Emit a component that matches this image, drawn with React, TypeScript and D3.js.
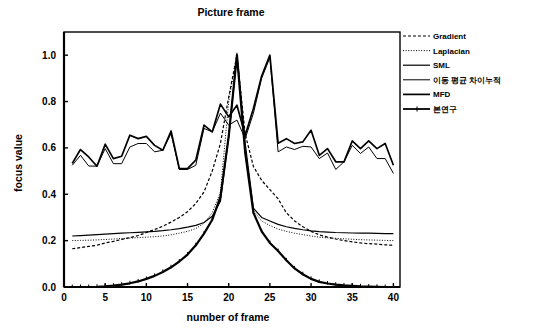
import React from "react";
import * as d3 from "d3";

const frames = d3.range(1, 41);
const xTicks = [0, 5, 10, 15, 20, 25, 30, 35, 40];
const yTicks = [0, 0.2, 0.4, 0.6, 0.8, 1.0];

const gradient = [0.165, 0.17, 0.175, 0.18, 0.19, 0.197, 0.205, 0.213, 0.222, 0.235, 0.248, 0.262, 0.28, 0.3, 0.325, 0.36, 0.41, 0.5, 0.62, 0.82, 1.0, 0.66, 0.52, 0.46, 0.42, 0.38, 0.32, 0.285, 0.26, 0.24, 0.225, 0.215, 0.207, 0.2, 0.195, 0.19, 0.187, 0.185, 0.182, 0.18];
const laplacian = [0.2, 0.201, 0.202, 0.203, 0.205, 0.207, 0.209, 0.211, 0.213, 0.215, 0.217, 0.22, 0.225, 0.232, 0.24, 0.252, 0.275, 0.32, 0.41, 0.8, 1.0, 0.6, 0.33, 0.285, 0.265, 0.25, 0.24, 0.232, 0.226, 0.22, 0.215, 0.212, 0.21, 0.208, 0.206, 0.204, 0.203, 0.202, 0.201, 0.2];
const sml = [0.22, 0.222, 0.224, 0.226, 0.228, 0.23, 0.232, 0.234, 0.236, 0.238, 0.24, 0.243, 0.247, 0.252, 0.258, 0.266, 0.278, 0.305, 0.37, 0.65, 1.0, 0.62, 0.34, 0.3, 0.285, 0.27, 0.26, 0.253, 0.247, 0.242, 0.239, 0.237, 0.235, 0.234, 0.233, 0.232, 0.232, 0.231, 0.23, 0.23];
const movingAvg = [0.525, 0.568, 0.522, 0.521, 0.597, 0.532, 0.532, 0.604, 0.619, 0.619, 0.583, 0.59, 0.662, 0.507, 0.507, 0.525, 0.684, 0.669, 0.75, 0.698, 0.72, 0.64, 0.75, 0.9, 0.99, 0.583, 0.604, 0.593, 0.607, 0.604, 0.554, 0.578, 0.507, 0.54, 0.611, 0.576, 0.604, 0.554, 0.554, 0.49];
const mfd = [0.533, 0.593, 0.561, 0.521, 0.616, 0.554, 0.564, 0.655, 0.64, 0.65, 0.611, 0.59, 0.673, 0.511, 0.511, 0.547, 0.698, 0.669, 0.789, 0.734, 0.784, 0.655, 0.77, 0.91, 1.0, 0.62, 0.64, 0.619, 0.626, 0.676, 0.568, 0.597, 0.54, 0.54, 0.63, 0.597, 0.63, 0.597, 0.619, 0.525];
const proposed = [0, 0, 0, 0.001, 0.003, 0.006, 0.01, 0.016, 0.024, 0.035, 0.048, 0.065, 0.085, 0.11, 0.14, 0.18, 0.23, 0.29, 0.39, 0.65, 1.0, 0.58, 0.32, 0.24, 0.19, 0.155, 0.115, 0.08, 0.055, 0.035, 0.022, 0.015, 0.01, 0.007, 0.005, 0.003, 0.002, 0.001, 0, 0];

const seriesNames = ["Gradient", "Laplacian", "SML", "이동 평균 차이누적", "MFD", "본연구"];

const styles = [
  { w: 1.2, dash: "3,2" },
  { w: 1, dash: "1,1.6" },
  { w: 1.2, dash: "" },
  { w: 1, dash: "" },
  { w: 1.7, dash: "" },
  { w: 2.2, dash: "" },
];

export default function App() {
  const left = 64, right = 400, top = 32, bottom = 287;
  const x = d3.scaleLinear().domain([0, 40.8]).range([left, right]);
  const y = d3.scaleLinear().domain([0, 1.1]).range([bottom, top]);
  const data = [gradient, laplacian, sml, movingAvg, mfd, proposed];
  const line = d3
    .line<number>()
    .x((_, i) => x(frames[i]))
    .y((d) => y(d));
  const font = "'Liberation Sans', Arial, sans-serif";

  return (
    <svg width={534} height={329} style={{ position: "absolute", left: 0, top: 0, background: "#fff" }} fontFamily={font}>
      <rect x={0} y={0} width={534} height={329} fill="#fff" />
      <text x={231} y={16} textAnchor="middle" fontSize={10.5} fontWeight="bold">Picture frame</text>
      {data.map((s, k) => (
        <path key={k} d={line(s) || ""} fill="none" stroke="#000" strokeWidth={styles[k].w} strokeDasharray={styles[k].dash} strokeLinejoin="round" />
      ))}
      {proposed.map((v, i) => (
        <line key={"m" + i} x1={x(frames[i])} x2={x(frames[i])} y1={y(v) - 2.5} y2={y(v) + 1} stroke="#000" strokeWidth={1} />
      ))}
      <rect x={left} y={top} width={right - left} height={bottom - top} fill="none" stroke="#000" strokeWidth={1.4} />
      <line x1={left} x2={left} y1={top} y2={bottom} stroke="#000" strokeWidth={2.2} />
      <line x1={left} x2={right} y1={bottom} y2={bottom} stroke="#000" strokeWidth={2.2} />
      {xTicks.map((t) => (
        <g key={"x" + t}>
          <line x1={x(t)} x2={x(t)} y1={bottom} y2={bottom - 4} stroke="#000" strokeWidth={1.4} />
          <text x={x(t)} y={bottom + 14} textAnchor="middle" fontSize={10} fontWeight="bold">{t}</text>
        </g>
      ))}
      {yTicks.map((t) => (
        <g key={"y" + t}>
          <line x1={left} x2={left + 4} y1={y(t)} y2={y(t)} stroke="#000" strokeWidth={1.4} />
          <text x={left - 8} y={y(t) + 3.5} textAnchor="end" fontSize={10} fontWeight="bold">{t.toFixed(1)}</text>
        </g>
      ))}
      <text x={228} y={321} textAnchor="middle" fontSize={10.5} fontWeight="bold">number of frame</text>
      <text transform={`translate(22,163) rotate(-90)`} textAnchor="middle" fontSize={10.5} fontWeight="bold">focus value</text>
      {seriesNames.map((n, k) => {
        const ly = 36 + k * 14.6;
        return (
          <g key={"l" + k}>
            <line x1={403} x2={430} y1={ly} y2={ly} stroke="#000" strokeWidth={Math.min(styles[k].w, 1.8)} strokeDasharray={styles[k].dash} />
            {k === 5 && <line x1={417} x2={417} y1={ly - 2.5} y2={ly + 2.5} stroke="#000" strokeWidth={1} />}
            <text x={433} y={ly + 3} fontSize={8} fontWeight="bold">{n}</text>
          </g>
        );
      })}
    </svg>
  );
}
